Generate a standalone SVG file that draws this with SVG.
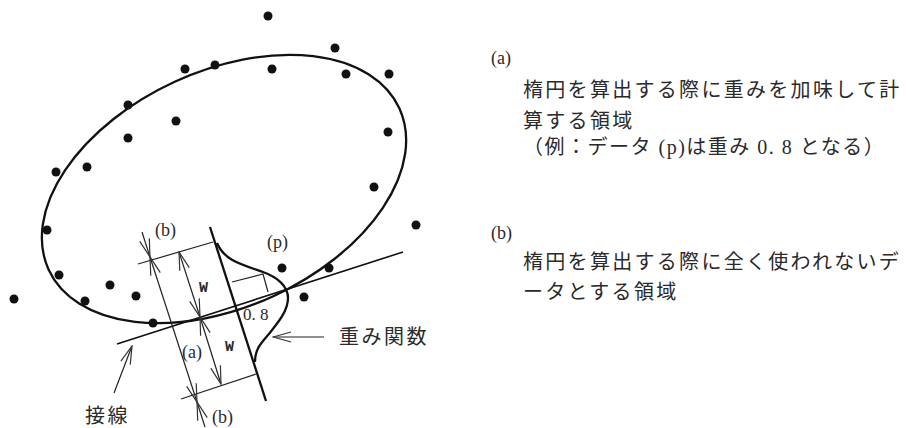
<svg xmlns="http://www.w3.org/2000/svg" width="906" height="428" viewBox="0 0 906 428">
<style>
text{font-family:"Liberation Serif","Noto Sans CJK JP",serif;fill:#2a2a2a;font-size:18px}
.jp{font-size:20px;letter-spacing:2.3px}
.jp2{font-size:20px;letter-spacing:2.5px}
.thick{fill:none;stroke:#111;stroke-width:2.3}
.mid{fill:none;stroke:#111;stroke-width:1.6}
.thin{fill:none;stroke:#222;stroke-width:1.2}
.dot{fill:#111}
</style>
<defs>
<marker id="v" viewBox="0 0 20 12" refX="19" refY="6" markerWidth="20" markerHeight="12" markerUnits="userSpaceOnUse" orient="auto-start-reverse">
<path d="M1 1L19 6L1 11" fill="none" stroke="#333" stroke-width="1.2"/>
</marker>
</defs>
<g id="ellipse"><ellipse class="thick" cx="224" cy="189" rx="193" ry="118" transform="rotate(-24.7 224 189)"/></g>
<g id="data-points">
<circle class="dot" cx="268" cy="16" r="4.5"/><circle class="dot" cx="335" cy="48" r="4.5"/><circle class="dot" cx="185" cy="69" r="4.5"/><circle class="dot" cx="215" cy="65" r="4.5"/><circle class="dot" cx="272" cy="69" r="4.5"/><circle class="dot" cx="346" cy="74" r="4.5"/><circle class="dot" cx="389" cy="74" r="4.5"/><circle class="dot" cx="128" cy="105" r="4.5"/><circle class="dot" cx="176" cy="121" r="4.5"/><circle class="dot" cx="128" cy="138" r="4.5"/><circle class="dot" cx="388" cy="132" r="4.5"/><circle class="dot" cx="56" cy="172" r="4.5"/><circle class="dot" cx="87" cy="167" r="4.5"/><circle class="dot" cx="374" cy="187" r="4.5"/><circle class="dot" cx="416" cy="225" r="4.5"/><circle class="dot" cx="47" cy="230" r="4.5"/><circle class="dot" cx="59" cy="275" r="4.5"/><circle class="dot" cx="14" cy="299" r="4.5"/><circle class="dot" cx="85" cy="301" r="4.5"/><circle class="dot" cx="110" cy="285" r="4.5"/><circle class="dot" cx="136" cy="296" r="4.5"/><circle class="dot" cx="153" cy="323" r="4.5"/><circle class="dot" cx="282" cy="268" r="4.5"/><circle class="dot" cx="329" cy="268" r="4.5"/><circle class="dot" cx="304" cy="297" r="4.5"/>
</g>
<g id="connectors">
<path class="mid" d="M117 344L403 252"/>
<path class="thick" d="M210 227L266 401"/>
<path class="thin" d="M138 264L213 242M181 399L256 374"/>
<path class="thin" d="M150 257L197 402" marker-start="url(#v)" marker-end="url(#v)"/>
<path class="thin" d="M142 232L150 257" marker-end="url(#v)"/>
<path class="thin" d="M205 427L197 402" marker-end="url(#v)"/>
<path class="thin" d="M179 252L200 317" marker-start="url(#v)" marker-end="url(#v)"/>
<path class="thin" d="M200 317L221 384" marker-start="url(#v)" marker-end="url(#v)"/>
<path class="thin" d="M324 337H273" marker-end="url(#v)"/>
<path class="thin" d="M114 393L132 346" marker-end="url(#v)"/>
<path class="thick" d="M217 243C224 260 240 264 263 272C277 277 288 286 288 298C288 312 276 325 268 335C261 343 255 349 255 362"/>
<path class="thin" d="M232 282L263 274L268 292"/>
</g>
<g id="diagram-labels">
<text x="155" y="236">(b)</text>
<text x="267" y="248">(p)</text>
<text x="182" y="358">(a)</text>
<text x="212" y="423">(b)</text>
<text x="243" y="320" style="font-size:17px">0. 8</text>
<text x="199" y="292" style="font-family:'Liberation Mono',monospace;font-size:15px;font-weight:bold">W</text>
<text x="225" y="351" style="font-family:'Liberation Mono',monospace;font-size:15px;font-weight:bold">W</text>
<text class="jp2" x="339" y="344">重み関数</text>
<text class="jp2" x="85" y="423">接線</text>
</g>
<g id="legend">
<text x="491" y="64">(a)</text>
<text class="jp" x="523" y="97">楕円を算出する際に重みを加味して計</text>
<text class="jp" x="523" y="128">算する領域</text>
<text class="jp" x="523" y="154" style="letter-spacing:1.5px">（例：データ (p)は重み 0. 8 となる）</text>
<text x="491" y="239">(b)</text>
<text class="jp" x="523" y="269">楕円を算出する際に全く使われないデ</text>
<text class="jp" x="523" y="299">ータとする領域</text>
</g>
</svg>
